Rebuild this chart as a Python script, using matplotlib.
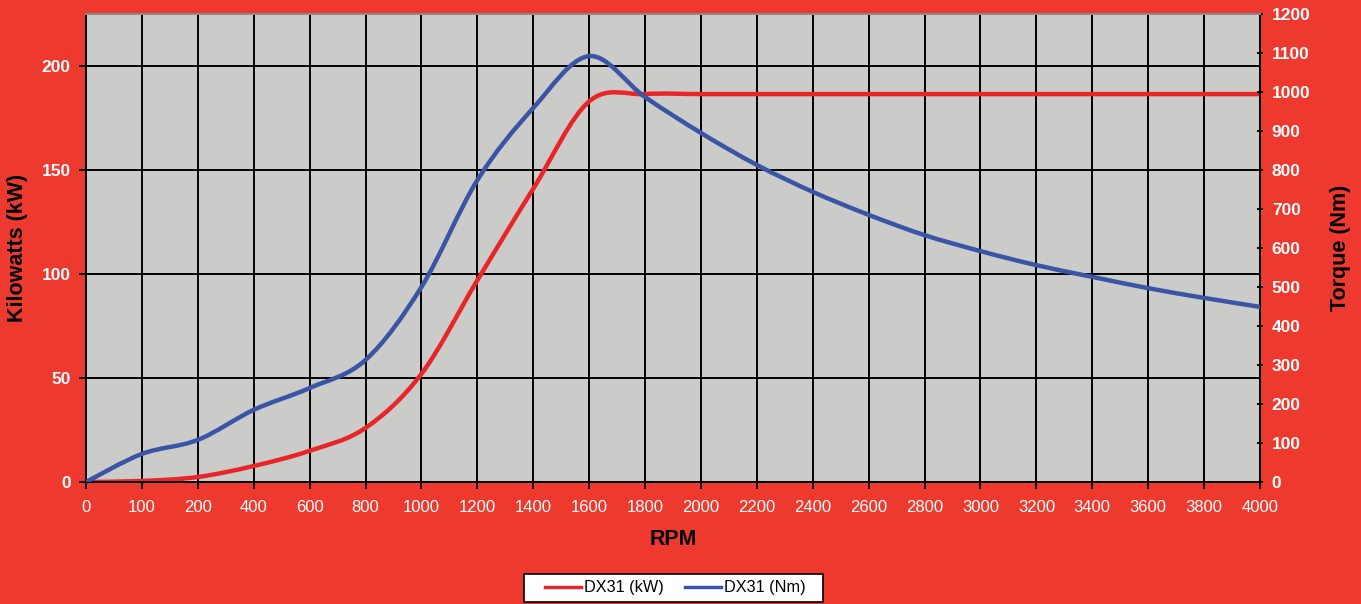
import matplotlib.pyplot as plt
from matplotlib.path import Path
from matplotlib.patches import PathPatch, Rectangle
from matplotlib.lines import Line2D
import numpy as np

plt.rcParams['font.family'] = ['Liberation Sans', 'DejaVu Sans']

BG = "#ee3a2e"
PLOT_BG = "#cbcbc9"
RED = "#e8262a"
BLUE = "#3a55a5"

rpm_labels = ["0", "100", "200", "400", "600", "800", "1000", "1200", "1400",
              "1600", "1800", "2000", "2200", "2400", "2600", "2800", "3000",
              "3200", "3400", "3600", "3800", "4000"]
kw_values = [0, 0.5, 2.4, 7.7, 15, 26, 52, 97, 141, 183, 186.5, 186.5, 186.5,
             186.5, 186.5, 186.5, 186.5, 186.5, 186.5, 186.5, 186.5, 186.5]
nm_values = [0, 72, 108, 185, 241, 313, 500, 774, 959, 1092, 987, 895, 813,
             744, 685, 633, 592, 556, 526, 497, 472, 449]


def smooth_path(xs, ys, tension=1 / 6):
    # Catmull-Rom style bezier like the spreadsheet "smoothed line"
    pts = np.column_stack([xs, ys]).astype(float)
    verts = [pts[0]]
    codes = [Path.MOVETO]
    n = len(pts)
    for i in range(n - 1):
        p0 = pts[max(i - 1, 0)]
        p1 = pts[i]
        p2 = pts[i + 1]
        p3 = pts[min(i + 2, n - 1)]
        c1 = p1 + (p2 - p0) * tension
        c2 = p2 - (p3 - p1) * tension
        verts += [c1, c2, p2]
        codes += [Path.CURVE4] * 3
    return Path(verts, codes)


fig = plt.figure(figsize=(13.61, 6.04), dpi=100, facecolor=BG)
ax = fig.add_axes([0.0632, 0.202, 0.8626, 0.7748])
ax.set_facecolor(PLOT_BG)
ax2 = ax.twinx()

x = np.arange(len(rpm_labels))
ax.set_xlim(0, len(rpm_labels) - 1)
ax.set_ylim(0, 225)
ax2.set_ylim(0, 1200)

ax.add_patch(PathPatch(smooth_path(x, kw_values), fill=False, edgecolor=RED,
                       lw=3.2, capstyle='round', zorder=3))
ax2.add_patch(PathPatch(smooth_path(x, nm_values), fill=False, edgecolor=BLUE,
                        lw=3.2, capstyle='round', zorder=3))

ax.set_xticks(x)
ax.set_xticklabels(rpm_labels, color="white", fontsize=12)
ax.set_yticks([0, 50, 100, 150, 200])
ax.set_yticklabels(["0", "50", "100", "150", "200"], color="white",
                   fontsize=12.5, fontweight="bold")
ax2.set_yticks(np.arange(0, 1201, 100))
ax2.set_yticklabels([str(v) for v in range(0, 1201, 100)], color="white",
                    fontsize=12.5, fontweight="bold")

ax.grid(True, color="black", lw=1.4)
ax.set_axisbelow(True)
ax.tick_params(axis='x', length=5, width=1.4, color="black", pad=8)
ax.tick_params(axis='y', length=5, width=1.4, color="black", pad=6)
ax2.tick_params(axis='y', length=5, width=1.4, color="black", pad=6,
                direction='inout')

for a in (ax, ax2):
    for side in ("left", "right", "bottom"):
        a.spines[side].set_color("black")
        a.spines[side].set_linewidth(1.4)
    a.spines["top"].set_color("#8a8a8a")
    a.spines["top"].set_linewidth(1.4)

ax.set_ylabel("Kilowatts (kW)", fontsize=15.5, fontweight="bold", labelpad=10)
ax2.set_ylabel("Torque (Nm)", fontsize=15.5, fontweight="bold", labelpad=14)
ax.set_xlabel("RPM", fontsize=15.5, fontweight="bold", labelpad=10)

# legend box drawn separately so it can carry the wide side padding
fig.patches.append(Rectangle((0.385, 0.0033), 0.2197, 0.0464,
                             transform=fig.transFigure, facecolor="white",
                             edgecolor="black", lw=1.2, zorder=1))
handles = [Line2D([], [], color=RED, lw=2.5), Line2D([], [], color=BLUE, lw=2.5)]
leg = fig.legend(handles, ["DX31 (kW)", "DX31 (Nm)"], loc="center",
                 bbox_to_anchor=(0.4963, 0.0265), ncol=2, fontsize=11.7,
                 frameon=False, handlelength=2.2, handletextpad=0.2,
                 columnspacing=1.35, borderpad=0, borderaxespad=0)
leg.set_zorder(2)

fig.savefig("out.png", dpi=100, facecolor=BG)
